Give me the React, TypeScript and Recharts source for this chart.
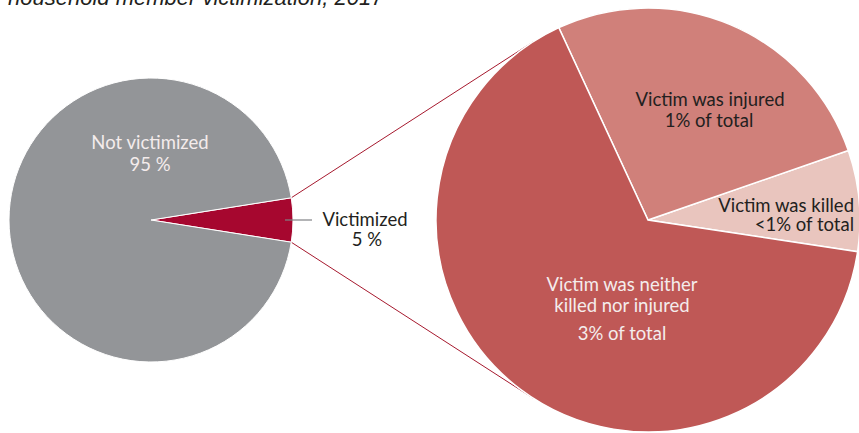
import React from 'react';
import { PieChart, Pie, Cell } from 'recharts';

const titleText = 'household member victimization, 2017';

const overviewNames = ['Victimized', 'Not victimized'];
const overviewValues = [5, 95];
const overviewLabels = ['5 %', '95 %'];
const overviewColors = ['#a6072f', '#939598'];

const breakdownNames = ['Victim was killed', 'Victim was injured', 'Victim was neither killed nor injured'];
const breakdownLines = [['Victim was killed'], ['Victim was injured'], ['Victim was neither', 'killed nor injured']];
const breakdownValues = [7.7, 26.6, 65.7];
const breakdownLabels = ['<1% of total', '1% of total', '3% of total'];
const breakdownColors = ['#e9c5be', '#d0807a', '#bf5856'];

const overviewData = overviewNames.map((name, i) => ({ name, value: overviewValues[i] }));
const breakdownData = breakdownNames.map((name, i) => ({ name, value: breakdownValues[i] }));

const W = 859;
const H = 433;
const L = { cx: 151, cy: 220, r: 142 };
const R = { cx: 648, cy: 220, r: 212 };
const FONT = 'Lato, "Open Sans", sans-serif';
const FS = 18.5;
const DARK = '#231f20';
const LIGHT = '#f4ecec';
const LINE = '#a6192e';

const victimHalfAngle = (overviewValues[0] / (overviewValues[0] + overviewValues[1])) * 180;
const leftStart = -victimHalfAngle;

function tangentEnd(px: number, py: number, upper: boolean) {
  const dx = R.cx - px;
  const dy = R.cy - py;
  const d = Math.sqrt(dx * dx + dy * dy);
  const base = Math.atan2(dy, dx);
  const off = Math.asin(R.r / d);
  const ang = upper ? base - off : base + off;
  const len = Math.sqrt(d * d - R.r * R.r);
  return { x: px + len * Math.cos(ang), y: py + len * Math.sin(ang) };
}

const Connectors = () => {
  const a = (victimHalfAngle * Math.PI) / 180;
  const p1 = { x: L.cx + L.r * Math.cos(a), y: L.cy - L.r * Math.sin(a) };
  const p2 = { x: L.cx + L.r * Math.cos(a), y: L.cy + L.r * Math.sin(a) };
  const e1 = tangentEnd(p1.x, p1.y, true);
  const e2 = tangentEnd(p2.x, p2.y, false);
  return (
    <g>
      <line x1={p1.x} y1={p1.y} x2={e1.x} y2={e1.y} stroke={LINE} strokeWidth={1} />
      <line x1={p2.x} y1={p2.y} x2={e2.x} y2={e2.y} stroke={LINE} strokeWidth={1} />
    </g>
  );
};

const Title = () => (
  <text x={8} y={5} fontFamily='"Liberation Sans", Arial, sans-serif' fontStyle="italic" fontSize={22} fill={DARK}>
    {titleText}
  </text>
);

const renderOverviewLabel = (props: any) => {
  const { cx, cy, index } = props;
  if (index === 1) {
    return (
      <g key="ov1" fontFamily={FONT} fontSize={FS} fill={LIGHT}>
        <text x={cx - 1} y={cy - 71} textAnchor="middle">{overviewNames[1]}</text>
        <text x={cx - 1} y={cy - 49} textAnchor="middle">{overviewLabels[1]}</text>
      </g>
    );
  }
  return (
    <g key="ov0" fontFamily={FONT} fontSize={FS} fill={DARK}>
      <line x1={cx + 134} y1={cy} x2={cx + 161} y2={cy} stroke="#808285" strokeWidth={1.2} />
      <text x={cx + 214} y={cy + 6} textAnchor="middle">{overviewNames[0]}</text>
      <text x={cx + 216} y={cy + 26} textAnchor="middle">{overviewLabels[0]}</text>
    </g>
  );
};

const renderBreakdownLabel = (props: any) => {
  const { cx, cy, index } = props;
  if (index === 0) {
    return (
      <g key="bd0" fontFamily={FONT} fontSize={FS} fill={DARK}>
        <text x={cx + 206} y={cy - 8} textAnchor="end">{breakdownLines[0][0]}</text>
        <text x={cx + 206} y={cy + 11} textAnchor="end">{breakdownLabels[0]}</text>
      </g>
    );
  }
  if (index === 1) {
    return (
      <g key="bd1" fontFamily={FONT} fontSize={FS} fill={DARK}>
        <text x={cx + 62} y={cy - 114} textAnchor="middle">{breakdownLines[1][0]}</text>
        <text x={cx + 61} y={cy - 93} textAnchor="middle">{breakdownLabels[1]}</text>
      </g>
    );
  }
  return (
    <g key="bd2" fontFamily={FONT} fontSize={FS} fill={LIGHT}>
      <text x={cx - 26} y={cy + 71} textAnchor="middle">{breakdownLines[2][0]}</text>
      <text x={cx - 26} y={cy + 92} textAnchor="middle">{breakdownLines[2][1]}</text>
      <text x={cx - 26} y={cy + 120} textAnchor="middle">{breakdownLabels[2]}</text>
    </g>
  );
};

export default function App() {
  return (
    <div style={{ position: 'absolute', left: 0, top: 0, width: W, height: H, background: '#fff' }}>
      <PieChart width={W} height={H} margin={{ top: 0, right: 0, bottom: 0, left: 0 }}>
        <Title />
        <Connectors />
        <Pie
          data={overviewData}
          dataKey="value"
          nameKey="name"
          cx={L.cx}
          cy={L.cy}
          outerRadius={L.r}
          startAngle={leftStart}
          endAngle={leftStart + 360}
          stroke="#ffffff"
          strokeWidth={1}
          isAnimationActive={false}
          label={renderOverviewLabel}
          labelLine={false}
        >
          {overviewData.map((d, i) => (
            <Cell key={d.name} fill={overviewColors[i]} />
          ))}
        </Pie>
        <Pie
          data={breakdownData}
          dataKey="value"
          nameKey="name"
          cx={R.cx}
          cy={R.cy}
          outerRadius={R.r}
          startAngle={-8.6}
          endAngle={351.4}
          stroke="#ffffff"
          strokeWidth={1.5}
          isAnimationActive={false}
          label={renderBreakdownLabel}
          labelLine={false}
        >
          {breakdownData.map((d, i) => (
            <Cell key={d.name} fill={breakdownColors[i]} />
          ))}
        </Pie>
      </PieChart>
    </div>
  );
}
